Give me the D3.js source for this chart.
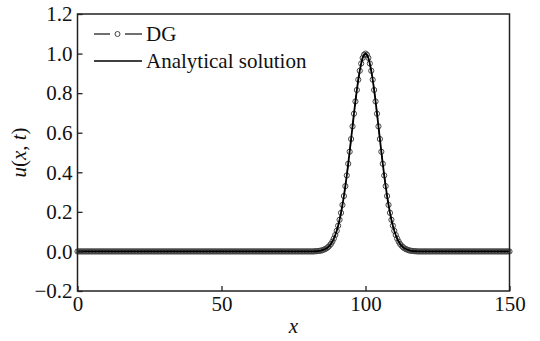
<!DOCTYPE html>
<html>
<head>
<meta charset="utf-8">
<script src="https://cdn.jsdelivr.net/npm/d3@7"></script>
<style>
  html, body { margin: 0; padding: 0; background: #fff; }
  svg { display: block; }
</style>
</head>
<body>
<svg id="chart" width="540" height="341"></svg>
<script>
// ---- data ----
// sample grid: x = 0, 0.5, 1, ..., 150
const xStart = 0, xEnd = 150, xStep = 0.5;
const dgValues = [
  0,0,0,0,0,0,0,0,0,0,0,0,0,0,0,0,0,0,0,0,
  0,0,0,0,0,0,0,0,0,0,0,0,0,0,0,0,0,0,0,0,
  0,0,0,0,0,0,0,0,0,0,0,0,0,0,0,0,0,0,0,0,
  0,0,0,0,0,0,0,0,0,0,0,0,0,0,0,0,0,0,0,0,
  0,0,0,0,0,0,0,0,0,0,0,0,0,0,0,0,0,0,0,0,
  0,0,0,0,0,0,0,0,0,0,0,0,0,0,0,0,0,0,0,0,
  0,0,0,0,0,0,0,0,0,0,0,0,0,0,0,0,0,0,0,0,
  0,0,0,0,0,0,0,0,0,0,0,0,0,0,0,0,0,0,0,0,
  0,0,0,0,0,
  0.001,0.001,0.002,0.003,0.004,0.006,0.009,0.012,0.016,0.022,0.029,0.038,0.050,0.065,0.083,0.104,0.130,0.160,
  0.195,0.235,0.280,0.330,0.384,0.443,0.504,0.568,0.632,0.696,0.758,0.816,0.868,0.913,0.950,0.978,0.994,1.000,
  0.994,0.978,0.950,0.913,0.868,0.816,0.758,0.696,0.632,0.568,0.504,0.443,0.384,0.330,0.280,0.235,0.195,
  0.160,0.130,0.104,0.083,0.065,0.050,0.038,0.029,0.022,0.016,0.012,0.009,0.006,0.004,0.003,0.002,0.001,0.001,
  0,0,0,0,0,0,0,0,0,0,0,0,0,0,0,0,0,0,0,0,
  0,0,0,0,0,0,0,0,0,0,0,0,0,0,0,0,0,0,0,0,
  0,0,0,0,0,0,0,0,0,0,0,0,0,0,0,0,0,0,0,0,
  0,0,0,0,0
];
const exactValues = [
  0,0,0,0,0,0,0,0,0,0,0,0,0,0,0,0,0,0,0,0,
  0,0,0,0,0,0,0,0,0,0,0,0,0,0,0,0,0,0,0,0,
  0,0,0,0,0,0,0,0,0,0,0,0,0,0,0,0,0,0,0,0,
  0,0,0,0,0,0,0,0,0,0,0,0,0,0,0,0,0,0,0,0,
  0,0,0,0,0,0,0,0,0,0,0,0,0,0,0,0,0,0,0,0,
  0,0,0,0,0,0,0,0,0,0,0,0,0,0,0,0,0,0,0,0,
  0,0,0,0,0,0,0,0,0,0,0,0,0,0,0,0,0,0,0,0,
  0,0,0,0,0,0,0,0,0,0,0,0,0,0,0,0,0,0,0,0,
  0,0,0,0,0,
  0.001,0.001,0.002,0.003,0.004,0.006,0.009,0.012,0.016,0.022,0.029,0.038,0.050,0.065,0.083,0.104,0.130,0.160,
  0.195,0.235,0.280,0.330,0.384,0.443,0.504,0.568,0.632,0.696,0.758,0.816,0.868,0.913,0.950,0.978,0.994,1.000,
  0.994,0.978,0.950,0.913,0.868,0.816,0.758,0.696,0.632,0.568,0.504,0.443,0.384,0.330,0.280,0.235,0.195,
  0.160,0.130,0.104,0.083,0.065,0.050,0.038,0.029,0.022,0.016,0.012,0.009,0.006,0.004,0.003,0.002,0.001,0.001,
  0,0,0,0,0,0,0,0,0,0,0,0,0,0,0,0,0,0,0,0,
  0,0,0,0,0,0,0,0,0,0,0,0,0,0,0,0,0,0,0,0,
  0,0,0,0,0,0,0,0,0,0,0,0,0,0,0,0,0,0,0,0,
  0,0,0,0,0
];
const xTicks = [0, 50, 100, 150];
const yTicks = [-0.2, 0.0, 0.2, 0.4, 0.6, 0.8, 1.0, 1.2];
const seriesNames = ["DG", "Analytical solution"];

const FONT = '"Liberation Serif", "Times New Roman", Times, "DejaVu Serif", serif';
const FS = "21px";

// ---- layout ----
const svg = d3.select("#chart");
const L = 77.5, T = 14, R = 509.5, B = 291;
const x = d3.scaleLinear().domain([0, 150]).range([L, R]);
const y = d3.scaleLinear().domain([-0.2, 1.2]).range([B, T]);

const xGrid = dgValues.map((_, i) => xStart + i * xStep);
const dg = xGrid.map((v, i) => [v, dgValues[i]]);
const ex = xGrid.map((v, i) => [v, exactValues[i]]);
const line = d3.line().x(d => x(d[0])).y(d => y(d[1]));

const plot = svg.append("g");
plot.append("path").datum(dg).attr("d", line)
  .attr("fill", "none").attr("stroke", "#333").attr("stroke-width", 1.2)
  .attr("stroke-dasharray", "12,10");
plot.selectAll("circle.dg").data(dg).enter().append("circle")
  .attr("class", "dg")
  .attr("cx", d => x(d[0])).attr("cy", d => y(d[1])).attr("r", 2.6)
  .attr("fill", "none").attr("stroke", "#444").attr("stroke-width", 1);
plot.append("path").datum(ex).attr("d", line)
  .attr("fill", "none").attr("stroke", "#000").attr("stroke-width", 1.8);

// frame
svg.append("rect").attr("x", L).attr("y", T).attr("width", R - L).attr("height", B - T)
  .attr("fill", "none").attr("stroke", "#222").attr("stroke-width", 1.5);

// axes (inward ticks)
const xAxis = d3.axisBottom(x).tickValues(xTicks).tickSizeInner(-5).tickSizeOuter(0)
  .tickFormat(d3.format("d"));
const gx = svg.append("g").attr("transform", `translate(0,${B})`).call(xAxis)
  .attr("font-family", FONT);
gx.select(".domain").remove();
gx.selectAll("line").attr("stroke", "#222").attr("stroke-width", 1.3);
gx.selectAll("text").style("font-family", FONT).style("font-size", FS)
  .attr("fill", "#111").attr("dy", "0.71em").attr("y", 5);

const yAxis = d3.axisLeft(y).tickValues(yTicks).tickSizeInner(-5).tickSizeOuter(0)
  .tickFormat(d => d3.format(".1f")(d).replace("-", "\u2212"));
const gy = svg.append("g").attr("transform", `translate(${L},0)`).call(yAxis)
  .attr("font-family", FONT);
gy.select(".domain").remove();
gy.selectAll("line").attr("stroke", "#222").attr("stroke-width", 1.3);
gy.selectAll("text").style("font-family", FONT).style("font-size", FS)
  .attr("fill", "#111").attr("x", -5);

// axis titles
svg.append("text").attr("x", (L + R) / 2).attr("y", 333).attr("text-anchor", "middle")
  .style("font-family", FONT).style("font-size", FS).style("font-style", "italic")
  .attr("fill", "#111").text("x");
const yl = svg.append("text").attr("transform", `translate(26,${(T + B) / 2}) rotate(-90)`)
  .attr("text-anchor", "middle").style("font-family", FONT).style("font-size", FS)
  .attr("fill", "#111");
yl.append("tspan").style("font-style", "italic").text("u");
yl.append("tspan").text("(");
yl.append("tspan").style("font-style", "italic").text("x");
yl.append("tspan").text(", ");
yl.append("tspan").style("font-style", "italic").text("t");
yl.append("tspan").text(")");

// legend
const lg = svg.append("g");
const row1 = 34, row2 = 61;
lg.append("line").attr("x1", 94).attr("x2", 110).attr("y1", row1).attr("y2", row1)
  .attr("stroke", "#222").attr("stroke-width", 1.3);
lg.append("line").attr("x1", 125).attr("x2", 142).attr("y1", row1).attr("y2", row1)
  .attr("stroke", "#222").attr("stroke-width", 1.3);
lg.append("circle").attr("cx", 117.5).attr("cy", row1).attr("r", 2.5)
  .attr("fill", "none").attr("stroke", "#444").attr("stroke-width", 1);
lg.append("line").attr("x1", 94).attr("x2", 142).attr("y1", row2).attr("y2", row2)
  .attr("stroke", "#000").attr("stroke-width", 1.5);
lg.selectAll("text.leg").data(seriesNames).enter().append("text").attr("class", "leg")
  .attr("x", 146).attr("y", (d, i) => (i === 0 ? row1 : row2) + 7)
  .style("font-family", FONT).style("font-size", FS).attr("fill", "#111")
  .text(d => d);
</script>
</body>
</html>
